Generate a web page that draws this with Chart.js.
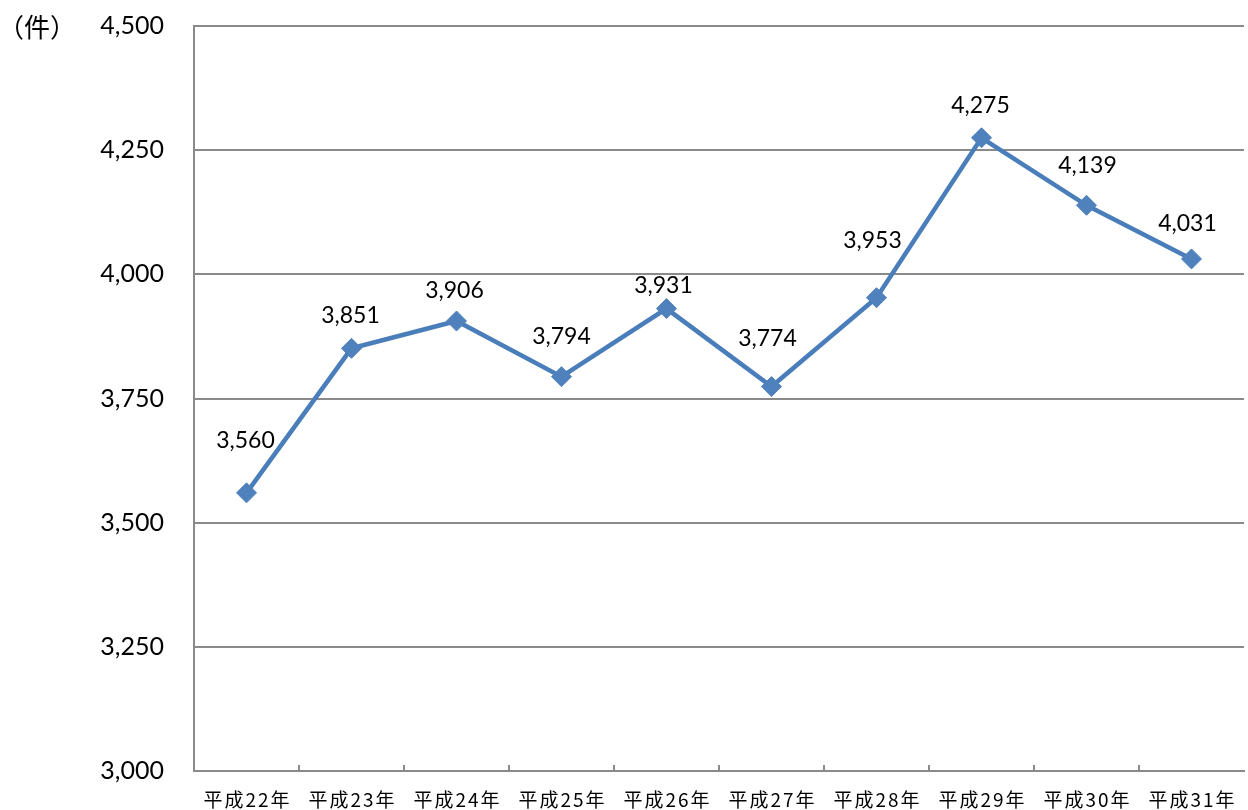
<!DOCTYPE html>
<html lang="ja">
<head>
<meta charset="utf-8">
<title>件数の推移</title>
<script src="https://cdn.jsdelivr.net/npm/chart.js@4.4.1/dist/chart.umd.min.js"></script>
<style>
  html, body { margin: 0; padding: 0; background: #fff; overflow: hidden; }
  #wrap { width: 1248px; height: 810px; overflow: hidden; }
  canvas { display: block; }
</style>
</head>
<body>
<div id="wrap"><canvas id="myChart" width="1255" height="810"></canvas></div>
<script>
// years and counts
const years = ['平成22年', '平成23年', '平成24年', '平成25年', '平成26年',
               '平成27年', '平成28年', '平成29年', '平成30年', '平成31年'];
const counts = [3560, 3851, 3906, 3794, 3931, 3774, 3953, 4275, 4139, 4031];
const yTicks = [3000, 3250, 3500, 3750, 4000, 4250, 4500];

// where each value label sits relative to its marker (px)
const labelShiftX = [-1, -1, -2, 0, -3, -4, -4, -1, 1, -4];
const labelShiftY = [-52, -33, -30, -40, -23, -48, -57, -32, -40, -35];

const gridGrey = '#8a8a8a';
const lineBlue = '#4a7ebb';
const numFont = 'Lato, "Open Sans", sans-serif';
const jpFont = '"Noto Sans CJK JP", sans-serif';

function fmt(v) {
    return v.toLocaleString('en-US');
}

// numbers above the markers
const valueLabels = {
    id: 'valueLabels',
    afterDatasetsDraw(chart) {
        const ctx = chart.ctx;
        const meta = chart.getDatasetMeta(0);
        ctx.save();
        ctx.font = '23px ' + numFont;
        ctx.fillStyle = '#000';
        ctx.textAlign = 'center';
        ctx.textBaseline = 'middle';
        meta.data.forEach(function (pt, i) {
            ctx.fillText(fmt(counts[i]), pt.x + labelShiftX[i], pt.y + labelShiftY[i]);
        });
        ctx.restore();
    }
};

// category names, short inner tick marks and the unit caption
const axisExtras = {
    id: 'axisExtras',
    afterDraw(chart) {
        const ctx = chart.ctx;
        const x = chart.scales.x;
        const area = chart.chartArea;
        ctx.save();
        ctx.strokeStyle = gridGrey;
        ctx.lineWidth = 2;
        for (let i = 0; i < years.length - 1; i++) {
            const px = Math.round(x.getPixelForValue(i + 0.5));
            ctx.beginPath();
            ctx.moveTo(px, area.bottom);
            ctx.lineTo(px, area.bottom - 6);
            ctx.stroke();
        }
        ctx.fillStyle = '#000';
        ctx.font = '19px ' + jpFont;
        ctx.textBaseline = 'middle';
        ctx.textAlign = 'center';
        ctx.letterSpacing = '2px';
        years.forEach(function (name, i) {
            ctx.fillText(name, x.getPixelForValue(i) + 1, 800);
        });
        ctx.letterSpacing = '0px';
        ctx.textAlign = 'left';
        ctx.font = '26px ' + jpFont;
        ctx.fillText('（件）', -2, 27);
        ctx.restore();
    }
};

const data = {
    labels: years,
    datasets: [{
        data: counts,
        borderColor: lineBlue,
        backgroundColor: '#4f81bd',
        borderWidth: 4.5,
        pointStyle: 'rectRot',
        pointRadius: 10,
        pointBorderWidth: 1,
        pointBorderColor: '#4f81bd',
        tension: 0
    }]
};

const config = {
    type: 'line',
    data: data,
    options: {
        responsive: false,
        animation: false,
        layout: { padding: { top: 26, right: 0, bottom: 0, left: 0 } },
        plugins: {
            legend: { display: false },
            tooltip: { enabled: false }
        },
        scales: {
            x: {
                offset: true,
                grid: { display: false },
                border: { display: true, color: gridGrey, width: 2 },
                ticks: { display: false },
                afterFit(scale) { scale.height = 39; }
            },
            y: {
                min: yTicks[0],
                max: yTicks[yTicks.length - 1],
                afterBuildTicks(scale) {
                    scale.ticks = yTicks.map(function (v) { return { value: v }; });
                },
                grid: { color: gridGrey, lineWidth: 2, drawTicks: false },
                border: { display: true, color: gridGrey, width: 2 },
                ticks: {
                    padding: 30,
                    color: '#000',
                    font: { family: numFont, size: 25 },
                    callback: function (v) { return fmt(v); }
                },
                afterFit(scale) {
                    scale.width = 194;
                    scale.paddingTop = 0;
                    scale.paddingBottom = 0;
                }
            }
        }
    },
    plugins: [valueLabels, axisExtras]
};

const myChart = new Chart(document.getElementById('myChart'), config);
</script>
</body>
</html>
